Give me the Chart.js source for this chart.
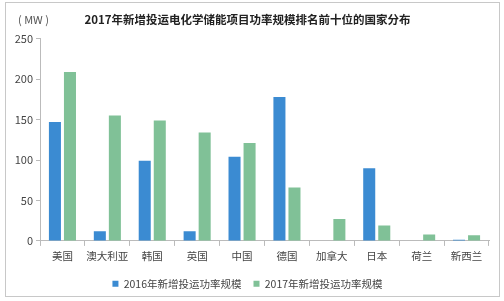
<!DOCTYPE html>
<html>
<head>
<meta charset="utf-8">
<script src="https://cdn.jsdelivr.net/npm/chart.js@4/dist/chart.umd.min.js"></script>
<style>
  html, body { margin: 0; padding: 0; background: #fff; }
  #wrap { width: 504px; height: 301px; }
</style>
</head>
<body>
<div id="wrap"><canvas id="powerChart" width="504" height="301"></canvas></div>
<script>
const countries = ['美国', '澳大利亚', '韩国', '英国', '中国', '德国', '加拿大', '日本', '荷兰', '新西兰'];
const added2016 = [147, 12, 99, 12, 104, 178, 0, 90, 0, 1.5];
const added2017 = [209, 155, 149, 134, 121, 66, 27, 19, 8, 7];
const yTicks = [0, 50, 100, 150, 200, 250];

const FONT = "'Noto Sans CJK SC', sans-serif";

// frame + unit label
const extras = {
    id: 'extras',
    beforeDraw(chart) {
        const c = chart.ctx;
        c.save();
        c.strokeStyle = '#c8c8c8';
        c.lineWidth = 1;
        c.strokeRect(5.5, 2.5, 494, 294);
        c.fillStyle = '#555';
        c.font = '11px ' + FONT;
        c.textBaseline = 'middle';
        c.fillText('( MW )', 18, 20);
        c.restore();
    }
};

const ctx = document.getElementById('powerChart').getContext('2d');

new Chart(ctx, {
    type: 'bar',
    data: {
        labels: countries,
        datasets: [{
            label: '2016年新增投运功率规模',
            data: added2016,
            backgroundColor: '#3b8bd2',
            categoryPercentage: 0.67,
            barPercentage: 0.8
        }, {
            label: '2017年新增投运功率规模',
            data: added2017,
            backgroundColor: '#80c197',
            categoryPercentage: 0.67,
            barPercentage: 0.8
        }]
    },
    options: {
        responsive: false,
        animation: false,
        layout: { padding: { left: 6, right: 15, top: 10, bottom: 2 } },
        plugins: {
            title: {
                display: true,
                text: '2017年新增投运电化学储能项目功率规模排名前十位的国家分布',
                color: '#222',
                font: { family: FONT, size: 11.5, weight: 'bold' },
                padding: { top: 3, bottom: 12 }
            },
            legend: {
                position: 'bottom',
                labels: {
                    color: '#444',
                    font: { family: FONT, size: 10.5 },
                    boxWidth: 6,
                    boxHeight: 6,
                    padding: 12
                }
            },
            tooltip: { enabled: false }
        },
        scales: {
            x: {
                grid: { offset: true, drawOnChartArea: false, tickLength: 5, color: '#bbb' },
                border: { color: '#bbb' },
                ticks: { color: '#444', font: { family: FONT, size: 10.5 }, padding: 4, maxRotation: 0, autoSkip: false }
            },
            y: {
                min: 0,
                max: 250,
                afterBuildTicks: s => { s.ticks = yTicks.map(v => ({ value: v })); },
                afterFit: s => { s.width = 34; },
                grid: { drawOnChartArea: false, tickLength: 4, color: '#bbb' },
                border: { color: '#bbb' },
                ticks: { color: '#444', font: { family: FONT, size: 11 }, padding: 3 }
            }
        }
    },
    plugins: [extras]
});
</script>
</body>
</html>
